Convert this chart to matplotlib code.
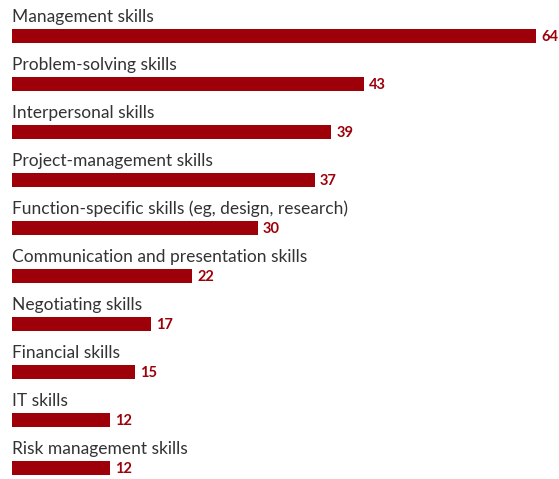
import matplotlib
matplotlib.use("Agg")
import matplotlib.pyplot as plt

categories = [
    "Management skills",
    "Problem-solving skills",
    "Interpersonal skills",
    "Project-management skills",
    "Function-specific skills (eg, design, research)",
    "Communication and presentation skills",
    "Negotiating skills",
    "Financial skills",
    "IT skills",
    "Risk management skills",
]
values = [64, 43, 39, 37, 30, 22, 17, 15, 12, 12]

W, H = 559, 479
fig = plt.figure(figsize=(W / 100, H / 100), dpi=100)
ax = fig.add_axes([12 / W, 0, 1 - 12 / W, 1])
ax.set_xlim(0, 64 * 547 / 524)
ax.set_ylim((H - 36) / 48, -36 / 48)
ax.axis("off")

bar_color = "#9e000a"
ys = list(range(len(categories)))
ax.barh(ys, values, height=14 / 48, color=bar_color, left=0)
for y, cat, v in zip(ys, categories, values):
    ax.text(0.05, y - 19 / 48, cat, fontsize=12.5, family="Lato", color="#333333",
            va="center", ha="left")
    ax.text(v + 0.6, y + 1 / 48, str(v), fontsize=10.5, family="Lato", fontweight="bold",
            color=bar_color, va="center", ha="left")

fig.savefig("out.png", dpi=100)
